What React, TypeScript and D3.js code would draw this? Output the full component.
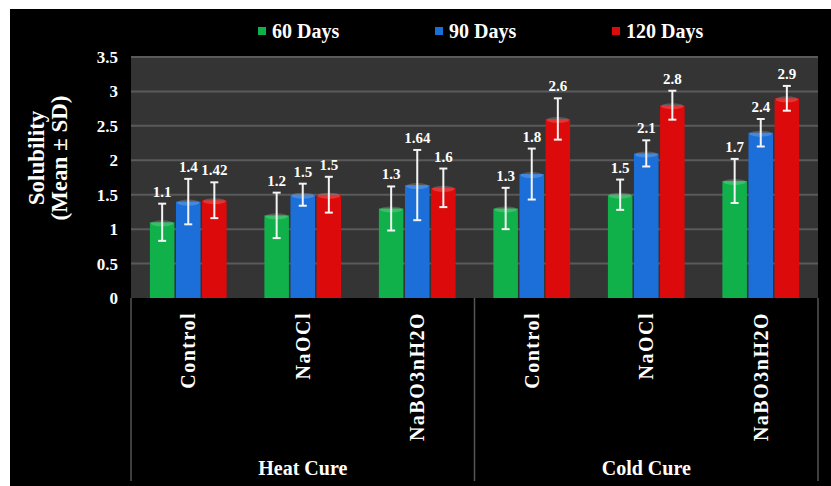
import React, { useRef, useEffect } from 'react';
import * as d3 from 'd3';

const treatments = ['Control', 'NaOCl', 'NaBO3nH2O'];
const cures = ['Heat Cure', 'Cold Cure'];
const seriesNames = ['60 Days', '90 Days', '120 Days'];
const yTicks = [0, 0.5, 1, 1.5, 2, 2.5, 3, 3.5];

// order: Heat Control, Heat NaOCl, Heat NaBO3, Cold Control, Cold NaOCl, Cold NaBO3
const days60 = [1.1, 1.2, 1.3, 1.3, 1.5, 1.7];
const days90 = [1.4, 1.5, 1.64, 1.8, 2.1, 2.4];
const days120 = [1.42, 1.5, 1.6, 2.6, 2.8, 2.9];
const sd60 = [0.27, 0.33, 0.32, 0.3, 0.22, 0.32];
const sd90 = [0.33, 0.16, 0.51, 0.37, 0.19, 0.2];
const sd120 = [0.26, 0.26, 0.28, 0.3, 0.21, 0.18];

const colors = ['#10b04a', '#1c6fd8', '#dc0a0a'];
const font = '"Liberation Serif", "Times New Roman", serif';

const App: React.FC = () => {
  const svgRef = useRef<SVGSVGElement | null>(null);

  useEffect(() => {
    document.body.style.margin = '0';
    const W = 831, H = 486;
    const left = 131, right = 818, top = 57, bottom = 298;
    const svg = d3.select(svgRef.current!).attr('width', W).attr('height', H);
    svg.selectAll('*').remove();

    svg.append('rect').attr('width', W).attr('height', H).attr('fill', '#fff');
    svg.append('rect').attr('x', 10).attr('y', 9).attr('width', W - 10).attr('height', H - 9).attr('fill', '#000');

    const groups = cures.flatMap((c) => treatments.map((t) => `${c}|${t}`));
    const x0 = d3.scaleBand().domain(groups).range([left, right]).paddingInner(0.33).paddingOuter(0.165);
    const x1 = d3.scaleBand().domain(seriesNames).range([0, x0.bandwidth()]).paddingInner(0.06);
    const y = d3.scaleLinear().domain([0, 3.5]).range([bottom, top]);

    // plot area
    svg.append('rect').attr('x', left).attr('y', top).attr('width', right - left).attr('height', bottom - top)
      .attr('fill', '#343434');
    svg.append('g').selectAll('line').data(yTicks.slice(1)).enter().append('line')
      .attr('x1', left).attr('x2', right)
      .attr('y1', (d) => y(d)).attr('y2', (d) => y(d))
      .attr('stroke', '#5a5a5a').attr('stroke-width', 2);

    // y tick labels
    svg.append('g').selectAll('text').data(yTicks).enter().append('text')
      .attr('x', 118).attr('y', (d) => y(d)).attr('dy', '0.35em')
      .attr('text-anchor', 'end').attr('fill', '#fff')
      .attr('font-family', font).attr('font-weight', 'bold').attr('font-size', 17)
      .text((d) => String(d));

    // y axis title
    const yt = svg.append('text').attr('transform', 'translate(44,158) rotate(-90)')
      .attr('text-anchor', 'middle').attr('fill', '#fff')
      .attr('font-family', font).attr('font-weight', 'bold').attr('font-size', 23);
    yt.append('tspan').attr('x', 0).attr('dy', 0).text('Solubility');
    yt.append('tspan').attr('x', 0).attr('dy', 23).text('(Mean ± SD)');

    const values = [days60, days90, days120];
    const sds = [sd60, sd90, sd120];
    const bars = groups.flatMap((g, gi) => seriesNames.map((s, si) => ({
      g, s, si, v: values[si][gi], sd: sds[si][gi],
    })));

    const barG = svg.append('g');
    barG.selectAll('rect').data(bars).enter().append('rect')
      .attr('x', (d) => x0(d.g)! + x1(d.s)!)
      .attr('y', (d) => y(d.v))
      .attr('width', x1.bandwidth())
      .attr('height', (d) => bottom - y(d.v))
      .attr('fill', (d) => colors[d.si]);
    // lighter cap at bar top
    barG.selectAll('ellipse').data(bars).enter().append('ellipse')
      .attr('cx', (d) => x0(d.g)! + x1(d.s)! + x1.bandwidth() / 2)
      .attr('cy', (d) => y(d.v) + 1)
      .attr('rx', x1.bandwidth() / 2 - 1).attr('ry', 3)
      .attr('fill', '#fff').attr('opacity', 0.18);

    // error bars
    const eb = svg.append('g').attr('stroke', '#f4f4f4').attr('stroke-width', 2);
    bars.forEach((d) => {
      const cx = x0(d.g)! + x1(d.s)! + x1.bandwidth() / 2;
      const y1 = y(d.v + d.sd), y2 = y(d.v - d.sd);
      eb.append('line').attr('x1', cx).attr('x2', cx).attr('y1', y1).attr('y2', y2);
      eb.append('line').attr('x1', cx - 4).attr('x2', cx + 4).attr('y1', y1).attr('y2', y1);
      eb.append('line').attr('x1', cx - 4).attr('x2', cx + 4).attr('y1', y2).attr('y2', y2);
    });

    // value labels
    svg.append('g').selectAll('text').data(bars).enter().append('text')
      .attr('x', (d) => x0(d.g)! + x1(d.s)! + x1.bandwidth() / 2)
      .attr('y', (d) => y(d.v + d.sd) - 7)
      .attr('text-anchor', 'middle').attr('fill', '#fff')
      .attr('font-family', font).attr('font-weight', 'bold').attr('font-size', 15)
      .text((d) => String(d.v));

    // category axis separators
    const sepX = [left, (left + right) / 2, right];
    svg.append('g').selectAll('line').data(sepX).enter().append('line')
      .attr('x1', (d) => d).attr('x2', (d) => d).attr('y1', bottom).attr('y2', 481)
      .attr('stroke', '#555').attr('stroke-width', 1.5);

    // treatment labels
    svg.append('g').selectAll('text').data(groups).enter().append('text')
      .attr('transform', (d) => `translate(${x0(d)! + x0.bandwidth() / 2 + 7},312) rotate(-90)`)
      .attr('text-anchor', 'end').attr('fill', '#fff')
      .attr('font-family', font).attr('font-weight', 'bold').attr('font-size', 20)
      .attr('letter-spacing', 1.5)
      .text((d) => d.split('|')[1]);

    // cure labels
    svg.append('g').selectAll('text').data(cures).enter().append('text')
      .attr('x', (d, i) => (sepX[i] + sepX[i + 1]) / 2)
      .attr('y', 475)
      .attr('text-anchor', 'middle').attr('fill', '#fff')
      .attr('font-family', font).attr('font-weight', 'bold').attr('font-size', 20)
      .text((d) => d);

    // legend
    const legX = [258, 435, 612];
    const leg = svg.append('g').selectAll('g').data(seriesNames).enter().append('g')
      .attr('transform', (d, i) => `translate(${legX[i]},31)`);
    leg.append('rect').attr('x', 0).attr('y', -4).attr('width', 8).attr('height', 8)
      .attr('fill', (d, i) => colors[i]);
    leg.append('text').attr('x', 14).attr('dy', '0.35em').attr('fill', '#fff')
      .attr('font-family', font).attr('font-weight', 'bold').attr('font-size', 20)
      .text((d) => d);
  }, []);

  return <svg ref={svgRef} style={{ display: 'block' }}></svg>;
};

export default App;
